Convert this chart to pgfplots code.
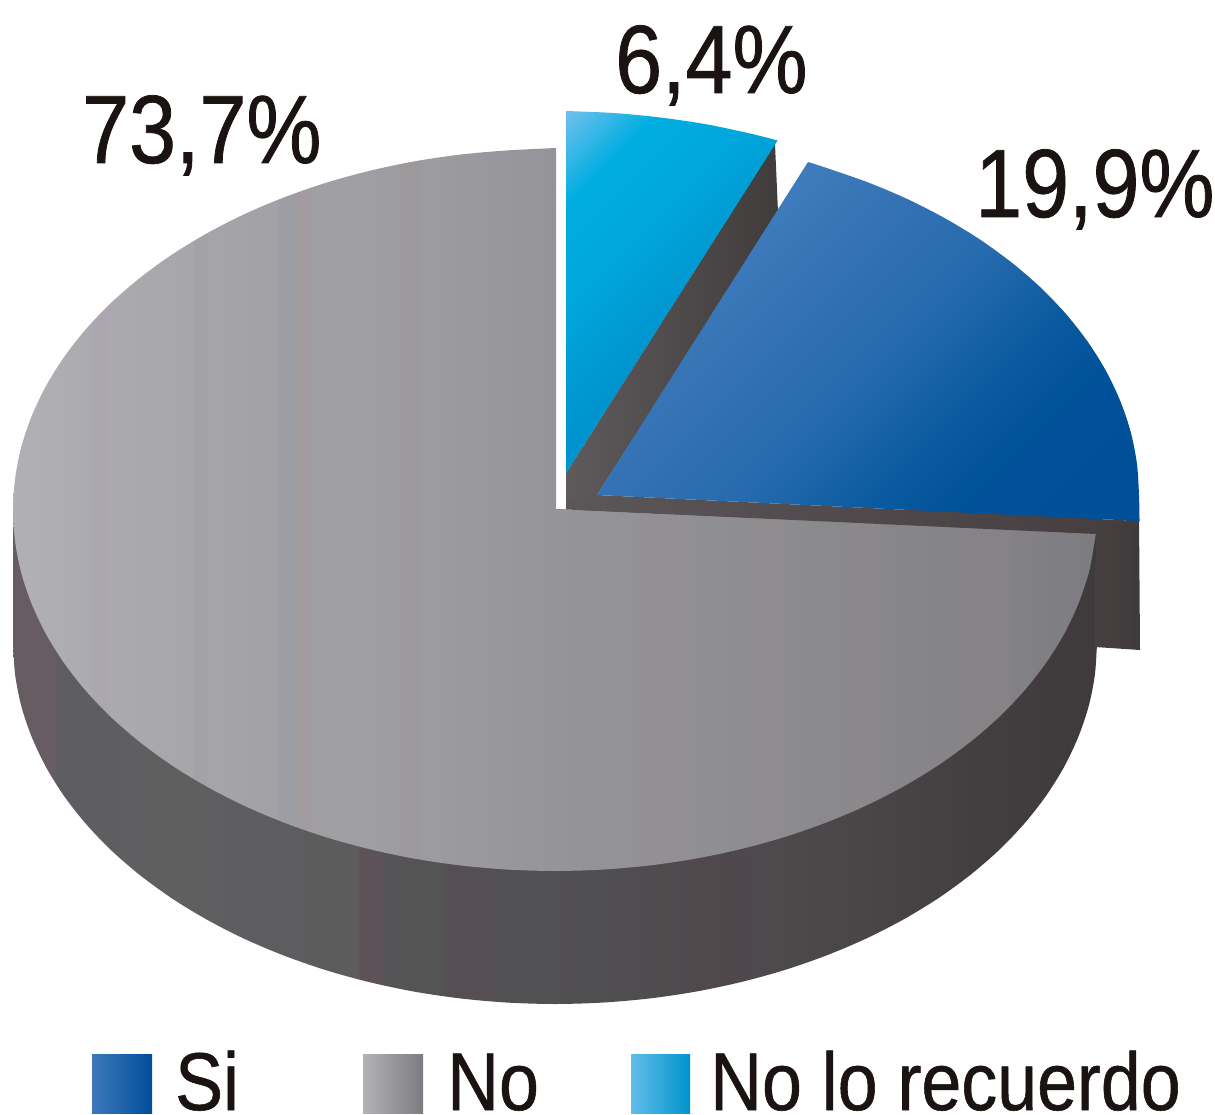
\documentclass[border=0pt]{standalone}
\usepackage{fontspec}
\usepackage{pgfplots}
\pgfplotsset{compat=1.18}
\newfontfamily\bigf[FakeStretch=0.87,FakeBold=0.8]{Liberation Sans}
\newfontfamily\legf[FakeStretch=0.875,FakeBold=0.7]{Liberation Sans}
\definecolor{txt}{HTML}{1A1311}
\definecolor{wa}{rgb}{.37,.355,.36}
\definecolor{wb}{rgb}{.25,.235,.235}
\definecolor{sa}{rgb}{.36,.34,.35}
\definecolor{sb}{rgb}{.27,.24,.245}
\definecolor{ba}{rgb}{.28,.25,.25}
\definecolor{bb}{rgb}{.245,.23,.235}
% stops: the path's bounding box spans 25bp..75bp
\pgfdeclarehorizontalshading{graytop}{100bp}{
 rgb(0bp)=(.69,.69,.71); rgb(25bp)=(.69,.69,.71);
 rgb(28.6bp)=(.67,.67,.69); rgb(28.7bp)=(.67,.65,.685); rgb(29.4bp)=(.67,.65,.685); rgb(29.5bp)=(.665,.665,.685);
 rgb(33.3bp)=(.65,.65,.67); rgb(33.4bp)=(.645,.635,.655); rgb(33.9bp)=(.645,.635,.655); rgb(34bp)=(.645,.645,.665);
 rgb(37.2bp)=(.63,.63,.65); rgb(37.3bp)=(.61,.62,.64); rgb(38bp)=(.61,.62,.64); rgb(38.1bp)=(.635,.61,.625); rgb(38.7bp)=(.63,.61,.625); rgb(38.8bp)=(.625,.625,.645);
 rgb(42.8bp)=(.615,.615,.635); rgb(42.9bp)=(.62,.60,.61); rgb(43.8bp)=(.62,.60,.61); rgb(43.9bp)=(.61,.61,.63);
 rgb(50bp)=(.585,.58,.60); rgb(53.9bp)=(.575,.57,.59); rgb(54bp)=(.58,.56,.575); rgb(56bp)=(.58,.56,.575); rgb(56.1bp)=(.565,.565,.58);
 rgb(58.9bp)=(.555,.55,.57); rgb(59bp)=(.565,.545,.56); rgb(60.5bp)=(.565,.545,.56); rgb(60.6bp)=(.55,.545,.56);
 rgb(63.2bp)=(.54,.535,.55); rgb(63.3bp)=(.55,.53,.54); rgb(65bp)=(.55,.53,.54); rgb(65.1bp)=(.53,.525,.54);
 rgb(69bp)=(.52,.515,.53); rgb(69.1bp)=(.53,.51,.52); rgb(71bp)=(.53,.51,.52); rgb(71.1bp)=(.51,.505,.52);
 rgb(75bp)=(.49,.485,.50); rgb(100bp)=(.49,.485,.50)}
\pgfdeclarehorizontalshading{graywall}{100bp}{
 rgb(0bp)=(.40,.36,.38); rgb(25bp)=(.40,.36,.38); rgb(26.9bp)=(.40,.36,.38); rgb(27bp)=(.365,.36,.38);
 rgb(32.5bp)=(.375,.375,.375); rgb(37bp)=(.365,.36,.375); rgb(40bp)=(.36,.36,.36); rgb(40.9bp)=(.36,.36,.36);
 rgb(41bp)=(.36,.32,.345); rgb(42bp)=(.36,.32,.345); rgb(42.1bp)=(.335,.33,.34);
 rgb(44.8bp)=(.33,.33,.33); rgb(44.9bp)=(.335,.305,.325); rgb(47bp)=(.335,.305,.325); rgb(47.1bp)=(.32,.315,.325);
 rgb(52bp)=(.315,.31,.32); rgb(54bp)=(.31,.30,.31); rgb(58bp)=(.31,.28,.295); rgb(60bp)=(.30,.29,.30);
 rgb(65bp)=(.285,.27,.275); rgb(70bp)=(.26,.24,.245); rgb(75bp)=(.245,.225,.23); rgb(100bp)=(.245,.225,.23)}
\pgfdeclareverticalshading{bluediag}{100bp}{
 rgb(0bp)=(0,.31,.60); rgb(15bp)=(0,.31,.60); rgb(30bp)=(0,.32,.60); rgb(38bp)=(.05,.36,.63); rgb(48bp)=(.15,.42,.68); rgb(60bp)=(.21,.45,.71); rgb(72bp)=(.26,.50,.75); rgb(100bp)=(.26,.50,.75)}
\pgfdeclareverticalshading{cyandiag}{100bp}{
 rgb(0bp)=(0,.58,.81); rgb(45bp)=(0,.58,.81); rgb(50bp)=(0,.60,.82); rgb(60bp)=(0,.65,.86); rgb(74bp)=(0,.68,.88); rgb(78bp)=(.16,.71,.90); rgb(85bp)=(.42,.75,.93); rgb(100bp)=(.42,.75,.93)}
\begin{document}
\begin{tikzpicture}
\path[use as bounding box] (0,0) rectangle (1215pt,1115pt);
\begin{axis}[anchor=south west, at={(0,0)}, hide axis, scale only axis, width=1215pt, height=1115pt,
  xmin=0, xmax=1215, ymin=0, ymax=1115, y dir=reverse, clip=false]
% side wall of the large slice
\addplot[draw=none, shade, shading=graywall, smooth] coordinates {(13,643) (15.1,674.5) (21.2,705.7) (31.5,736.4) (45.7,766.5) (63.8,795.6) (85.6,823.5) (111,850.1) (139.8,875) (171.8,898.3) (206.6,919.5) (244.1,938.7) (284,955.6) (326,970.2) (369.6,982.2) (414.7,991.7) (460.9,998.5) (507.7,1002.6) (555,1004) (602.3,1002.6) (649.1,998.5) (695.3,991.7) (740.4,982.2) (784,970.2) (826,955.6) (865.9,938.7) (903.4,919.5) (938.2,898.3) (970.2,875) (999,850.1) (1024.4,823.5) (1046.2,795.6) (1064.3,766.5) (1078.5,736.4) (1088.8,705.7) (1094.9,674.5) (1097,643)} -- (axis cs:1097,510) -- (axis cs:13,510) -- cycle;
% top of the large slice (73,7 %)
\addplot[draw=none, shade, shading=graytop, smooth] coordinates {(556,148) (507.7,150.4) (460.9,154.5) (414.7,161.3) (369.6,170.8) (326,182.8) (284,197.4) (244.1,214.3) (206.6,233.5) (171.8,254.7) (139.8,278) (111,302.9) (85.6,329.5) (63.8,357.4) (45.7,386.5) (31.5,416.6) (21.2,447.3) (15.1,478.5) (13,510) (15.1,541.5) (21.2,572.7) (31.5,603.4) (45.7,633.5) (63.8,662.6) (85.6,690.5) (111,717.1) (139.8,742) (171.8,765.3) (206.6,786.5) (244.1,805.7) (284,822.6) (326,837.2) (369.6,849.2) (414.7,858.7) (460.9,865.5) (507.7,869.6) (555,871) (602.3,869.6) (649.1,865.5) (695.3,858.7) (740.4,849.2) (784,837.2) (826,822.6) (865.9,805.7) (903.4,786.5) (938.2,765.3) (970.2,742) (999,717.1) (1024.4,690.5) (1046.2,662.6) (1064.3,633.5) (1078.5,603.4) (1088.8,572.7) (1093.5,548) (1096,533)} -- (axis cs:556,509) -- cycle;
% dark strip under the blue slice
\addplot[draw=none, left color=sa, right color=sb] coordinates {(566,473) (597,495) (1139.5,521) (1096,534) (556,509) (566,509)} -- cycle;
% outer wall of the blue slice
\addplot[draw=none, left color=ba, right color=bb] coordinates {(1096,533) (1139,515) (1140,650) (1095,647)} -- cycle;
% wall between cyan and blue
\addplot[draw=none, left color=wa, right color=wb] coordinates {(566,473) (775,144) (778,212) (597,495) (566,500)} -- cycle;
% blue slice (19,9 %)
\addplot[draw=none, shade, shading=bluediag, shading angle=45, smooth] coordinates {(808,162) (826,167.8) (868,182.4) (907.9,199.3) (945.4,218.5) (980.2,239.7) (1012.2,263) (1041,287.9) (1066.4,314.5) (1088.2,342.4) (1106.3,371.5) (1120.5,401.6) (1130.8,432.3) (1136.9,463.5) (1139,495) (1139.5,521)} -- (axis cs:597,495) -- cycle;
% cyan slice (6,4 %)
\addplot[draw=none, shade, shading=cyandiag, shading angle=45, smooth] coordinates {(566,111) (613.3,113) (660.1,117.5) (706.3,124.3) (751.4,133.8) (777.5,140.5)} -- (axis cs:566,473) -- cycle;
% legend swatches
\addplot[draw=none, left color={rgb,1:red,.24;green,.47;blue,.73}, right color={rgb,1:red,0;green,.31;blue,.60}] coordinates {(92,1054) (152,1054) (152,1113) (92,1113)} -- cycle;
\addplot[draw=none, left color={rgb,1:red,.70;green,.70;blue,.72}, right color={rgb,1:red,.49;green,.485;blue,.50}] coordinates {(363,1054) (423,1054) (423,1113) (363,1113)} -- cycle;
\addplot[draw=none, left color={rgb,1:red,.38;green,.74;blue,.92}, middle color={rgb,1:red,0;green,.68;blue,.88}, right color={rgb,1:red,0;green,.58;blue,.80}] coordinates {(631,1054) (690,1054) (690,1113) (631,1113)} -- cycle;
% text
\node[anchor=base west, inner sep=0pt, text=txt, font=\fontsize{97}{97}\selectfont\bigf] at (axis cs:82,163) {73,7\%};
\node[anchor=base west, inner sep=0pt, text=txt, font=\fontsize{97}{97}\selectfont\bigf] at (axis cs:615,93) {6,4\%};
\node[anchor=base west, inner sep=0pt, text=txt, font=\fontsize{97}{97}\selectfont\bigf] at (axis cs:975,217) {19,9\%};
\node[anchor=base west, inner sep=0pt, text=txt, font=\fontsize{82}{82}\selectfont\legf] at (axis cs:175,1110) {Si};
\node[anchor=base west, inner sep=0pt, text=txt, font=\fontsize{82}{82}\selectfont\legf] at (axis cs:447,1110) {No};
\node[anchor=base west, inner sep=0pt, text=txt, font=\fontsize{82}{82}\selectfont\legf] at (axis cs:710,1110) {No lo recuerdo};
\end{axis}
\end{tikzpicture}
\end{document}
